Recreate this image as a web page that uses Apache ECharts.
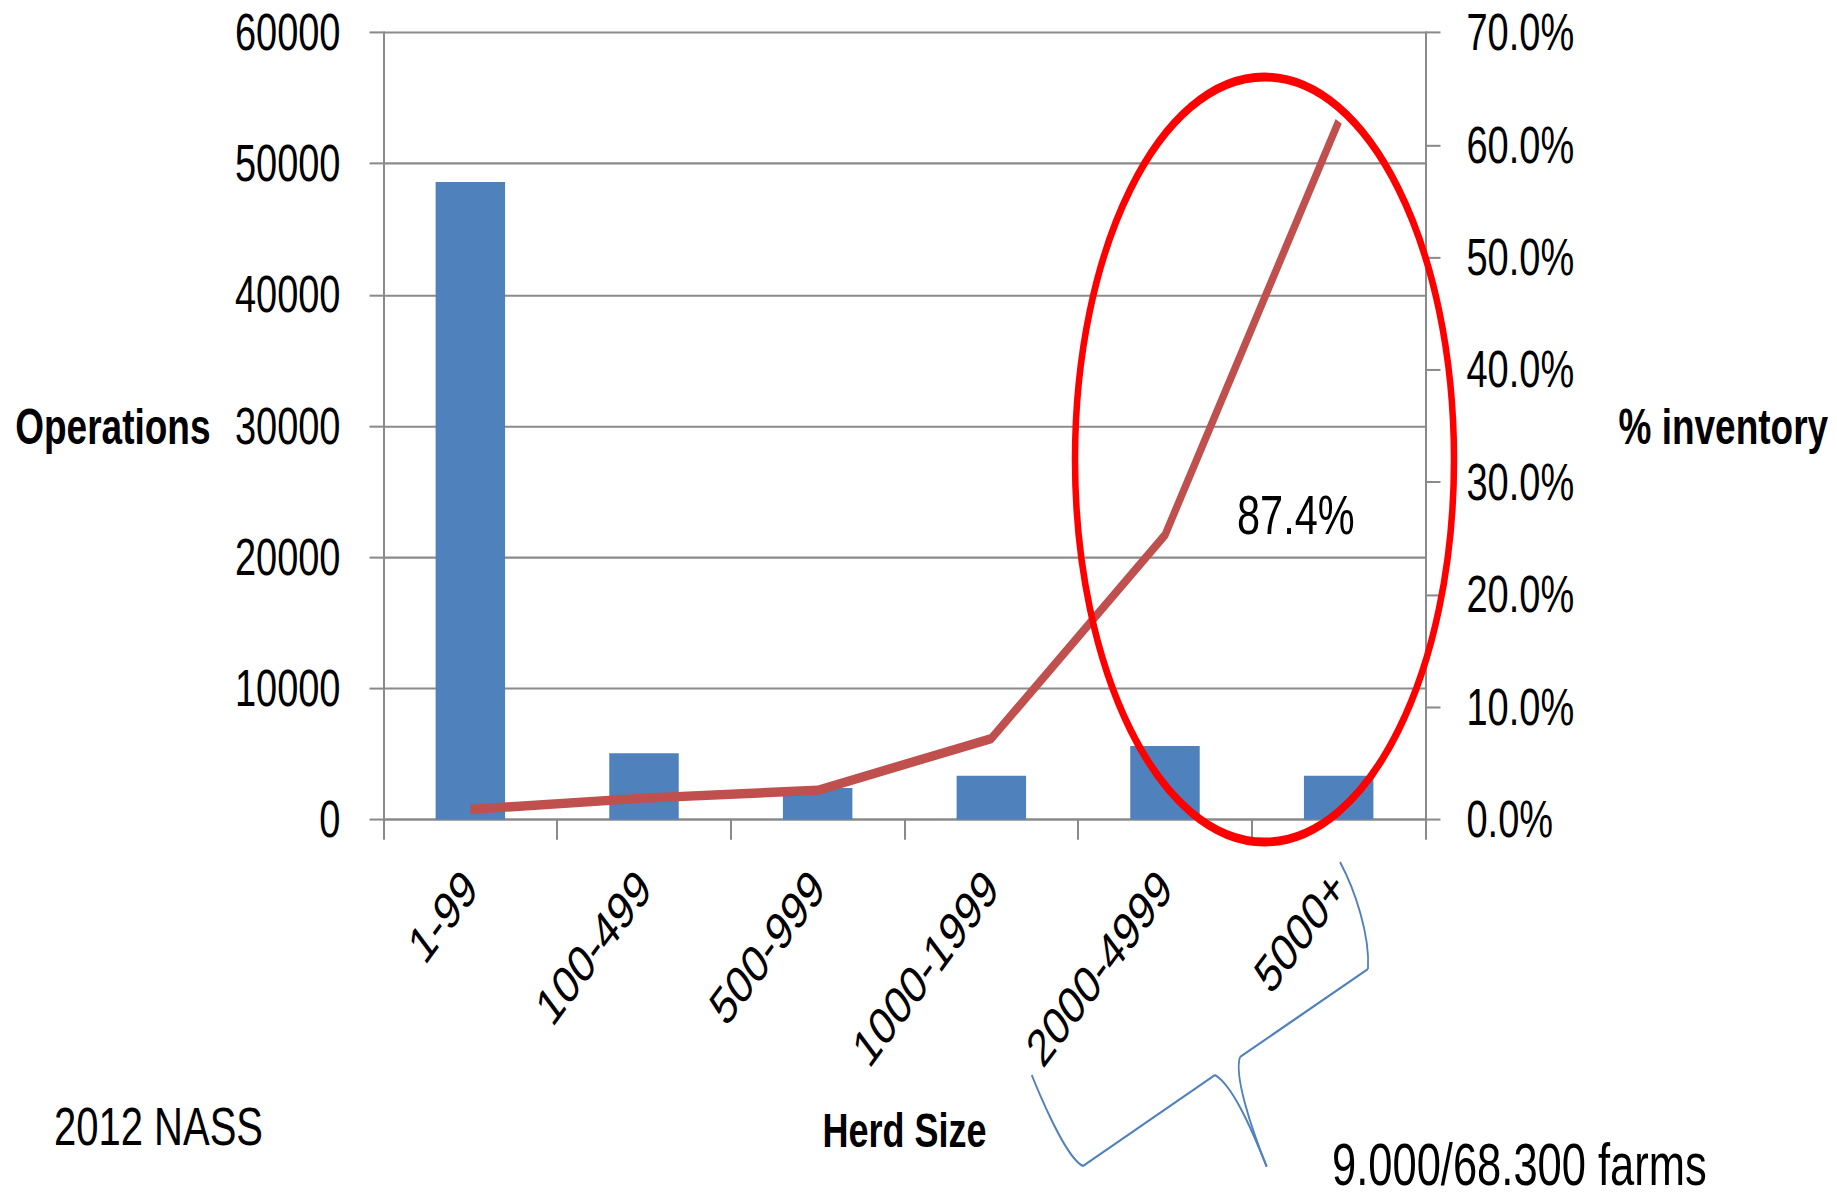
<!DOCTYPE html>
<html>
<head>
<meta charset="utf-8">
<script src="https://cdn.jsdelivr.net/npm/echarts@6/dist/echarts.min.js"></script>
<style>
html,body{margin:0;padding:0;background:#fff;width:1837px;height:1203px;overflow:hidden;}
#chart{width:1837px;height:891px;transform-origin:0 0;}
</style>
</head>
<body>
<div id="chart"></div>
<script>
// ---- data ----
const categories = ['1-99', '100-499', '500-999', '1000-1999', '2000-4999', '5000+'];
const operations = [48600, 5050, 2400, 3340, 5600, 3340];
const inventoryPct = [0.9, 1.9, 2.6, 7.2, 25.3, 62.1];
const leftAxisRange = [0, 60000, 10000];
const rightAxisRange = [0, 70, 10];
const leftAxisTitle = 'Operations';
const rightAxisTitle = '% inventory';
const xAxisTitle = 'Herd Size';
const sourceNote = '2012 NASS';
const shareNote = '87.4%';
const farmsNote = '9.000/68.300 farms';

// The reference picture is stretched vertically; reproduce that stretch.
const K = 1203 / 891;
const el = document.getElementById('chart');
el.style.transform = 'scaleY(' + K + ')';
const Y = v => v / K;   // convert a reference-pixel y to chart space

const FONT = "'Liberation Sans', Arial, sans-serif";
const GRAY = '#8a8a8a';

const chart = echarts.init(el, null, {renderer: 'svg'});

const braceStyle = {stroke: '#4F81BD', lineWidth: 1.8, fill: 'none'};
function txt(text, x, yRef, size, weight) {
  return {type: 'text', z: 101, x: x, y: Y(yRef),
    style: {text: text, fontFamily: FONT, fontSize: size, fontWeight: weight || 'normal', fill: '#000',
            align: 'left', verticalAlign: 'middle', textAlign: 'left', textVerticalAlign: 'middle'}};
}

chart.setOption({
  animation: false,
  backgroundColor: '#ffffff',
  grid: {left: 383.5, right: 411.5, top: Y(32.5), bottom: 891 - Y(819.5), containLabel: false, outerBoundsMode: 'none'},
  xAxis: {
    type: 'category',
    data: categories,
    boundaryGap: true,
    name: xAxisTitle,
    nameLocation: 'middle',
    nameGap: Y(1130) - Y(819.5),
    nameTextStyle: {fontFamily: FONT, fontWeight: 'bold', fontSize: 36, color: '#000', verticalAlign: 'middle'},
    axisLine: {show: true, lineStyle: {color: GRAY, width: 1.5}},
    axisTick: {show: true, alignWithLabel: false, length: 15, lineStyle: {color: GRAY, width: 2}},
    axisLabel: {interval: 0, rotate: 45, margin: 44, padding: [44, 0, 0, 0], fontFamily: FONT, fontSize: 39, color: '#000'},
    splitLine: {show: false}
  },
  yAxis: [
    {
      type: 'value',
      min: leftAxisRange[0], max: leftAxisRange[1], interval: leftAxisRange[2],
      name: leftAxisTitle,
      nameLocation: 'middle',
      nameRotate: 0,
      nameGap: 173,
      nameTextStyle: {fontFamily: FONT, fontWeight: 'bold', fontSize: 37, color: '#000', align: 'right', verticalAlign: 'middle'},
      axisLine: {show: true, lineStyle: {color: GRAY, width: 2}},
      axisTick: {show: true, length: 14, lineStyle: {color: GRAY, width: 1.5}},
      axisLabel: {margin: 43, fontFamily: FONT, fontSize: 38, color: '#000', formatter: v => String(v)},
      splitLine: {show: true, lineStyle: {color: GRAY, width: 1.5}}
    },
    {
      type: 'value',
      position: 'right',
      min: rightAxisRange[0], max: rightAxisRange[1], interval: rightAxisRange[2],
      name: rightAxisTitle,
      nameLocation: 'middle',
      nameRotate: 0,
      nameGap: 193,
      nameTextStyle: {fontFamily: FONT, fontWeight: 'bold', fontSize: 37, color: '#000', align: 'left', verticalAlign: 'middle', padding: [0, 0, 2 * (Y(426) - Y(378)), 0]},
      axisLine: {show: true, lineStyle: {color: GRAY, width: 2}},
      axisTick: {show: true, length: 15, lineStyle: {color: GRAY, width: 1.5}},
      axisLabel: {margin: 41, fontFamily: FONT, fontSize: 38, color: '#000', formatter: v => v.toFixed(1) + '%'},
      splitLine: {show: false}
    }
  ],
  series: [
    {
      type: 'bar',
      data: operations,
      yAxisIndex: 0,
      barWidth: '40%',
      itemStyle: {color: '#4F81BD'},
      z: 2
    },
    {
      type: 'line',
      data: inventoryPct,
      yAxisIndex: 1,
      symbol: 'none',
      lineStyle: {color: '#C0504D', width: 7},
      z: 3
    }
  ],
  graphic: [
    {type: 'ellipse', z: 100, shape: {cx: 1264.5, cy: Y(459.5), rx: 189.5, ry: Y(382.5)},
     style: {fill: 'none', stroke: '#FF0000', lineWidth: 6.5}},
    txt(shareNote, 1237, 514, 41.5),
    txt(sourceNote, 54, 1126, 40),
    txt(farmsNote, 1332, 1165, 43.5),
    {type: 'bezierCurve', z: 90, shape: {x1: 1031.7, y1: Y(1075), cpx1: 1050, cpy1: Y(1120), cpx2: 1070, cpy2: Y(1160), x2: 1083, y2: Y(1166)}, style: braceStyle},
    {type: 'line', z: 90, shape: {x1: 1083, y1: Y(1166), x2: 1215, y2: Y(1075)}, style: braceStyle},
    {type: 'bezierCurve', z: 90, shape: {x1: 1215, y1: Y(1075), cpx1: 1232, cpy1: Y(1085), cpx2: 1250, cpy2: Y(1125), x2: 1266.7, y2: Y(1166.7)}, style: braceStyle},
    {type: 'bezierCurve', z: 90, shape: {x1: 1266.7, y1: Y(1166.7), cpx1: 1250, cpy1: Y(1125), cpx2: 1234, cpy2: Y(1075), x2: 1240, y2: Y(1057)}, style: braceStyle},
    {type: 'line', z: 90, shape: {x1: 1240, y1: Y(1057), x2: 1368, y2: Y(969)}, style: braceStyle},
    {type: 'bezierCurve', z: 90, shape: {x1: 1368, y1: Y(969), cpx1: 1370, cpy1: Y(935), cpx2: 1355, cpy2: Y(890), x2: 1340, y2: Y(862)}, style: braceStyle}
  ]
});
</script>
</body>
</html>
